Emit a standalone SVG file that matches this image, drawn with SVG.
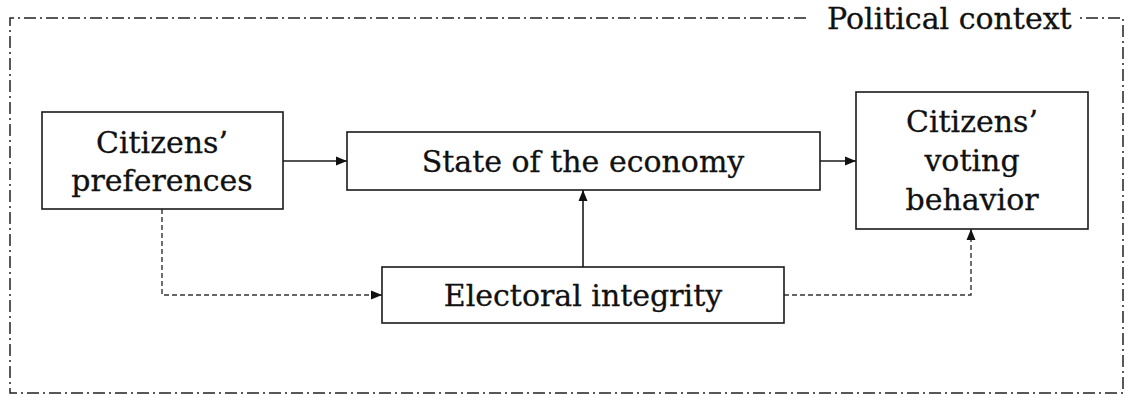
<svg xmlns="http://www.w3.org/2000/svg" width="1128" height="396" viewBox="0 0 1128 396">
  <style>
    .box { fill: #ffffff; stroke: #1a1a1a; stroke-width: 1.6; }
    .lbl { font-family: "DejaVu Serif", "Liberation Serif", serif; font-size: 30px; fill: #111111; stroke: #111111; stroke-width: 0.3; text-anchor: middle; }
    .frame { fill: none; stroke: #222222; stroke-width: 1.5; stroke-dasharray: 12 4 2 4; }
    .solid { fill: none; stroke: #1a1a1a; stroke-width: 1.6; }
    .dashed { fill: none; stroke: #333333; stroke-width: 1.4; stroke-dasharray: 5 3; }
  </style>
  <defs>
    <marker id="arrow" viewBox="0 0 11 10" refX="11" refY="5" markerWidth="11" markerHeight="10" markerUnits="userSpaceOnUse" orient="auto">
      <path d="M0,0.5 L11,5 L0,9.5 Z" fill="#111111"/>
    </marker>
  </defs>

  <g id="political-context">
    <path class="frame" d="M806,18 L10,18 L10,393 L1123,393 L1123,18 L1078,18"/>
    <text class="lbl" x="827" y="29" style="text-anchor:start">Political context</text>
  </g>

  <g id="connectors">
    <line class="solid" x1="283" y1="161" x2="347" y2="161" marker-end="url(#arrow)"/>
    <line class="solid" x1="820" y1="161" x2="856" y2="161" marker-end="url(#arrow)"/>
    <line class="solid" x1="583" y1="267" x2="583" y2="190" marker-end="url(#arrow)"/>
    <path class="dashed" d="M162,209 L162,295 L382,295" marker-end="url(#arrow)"/>
    <path class="dashed" d="M784,295 L971,295 L971,229" marker-end="url(#arrow)"/>
  </g>

  <g id="citizens-preferences">
    <rect class="box" x="42" y="112" width="241" height="97"/>
    <text class="lbl" x="162" y="153">Citizens’</text>
    <text class="lbl" x="162" y="191">preferences</text>
  </g>

  <g id="state-of-economy">
    <rect class="box" x="347" y="132" width="473" height="58"/>
    <text class="lbl" x="583" y="172">State of the economy</text>
  </g>

  <g id="electoral-integrity">
    <rect class="box" x="382" y="267" width="402" height="56"/>
    <text class="lbl" x="583" y="306">Electoral integrity</text>
  </g>

  <g id="citizens-voting-behavior">
    <rect class="box" x="856" y="92" width="232" height="137"/>
    <text class="lbl" x="972" y="132">Citizens’</text>
    <text class="lbl" x="972" y="171">voting</text>
    <text class="lbl" x="972" y="210">behavior</text>
  </g>
</svg>
